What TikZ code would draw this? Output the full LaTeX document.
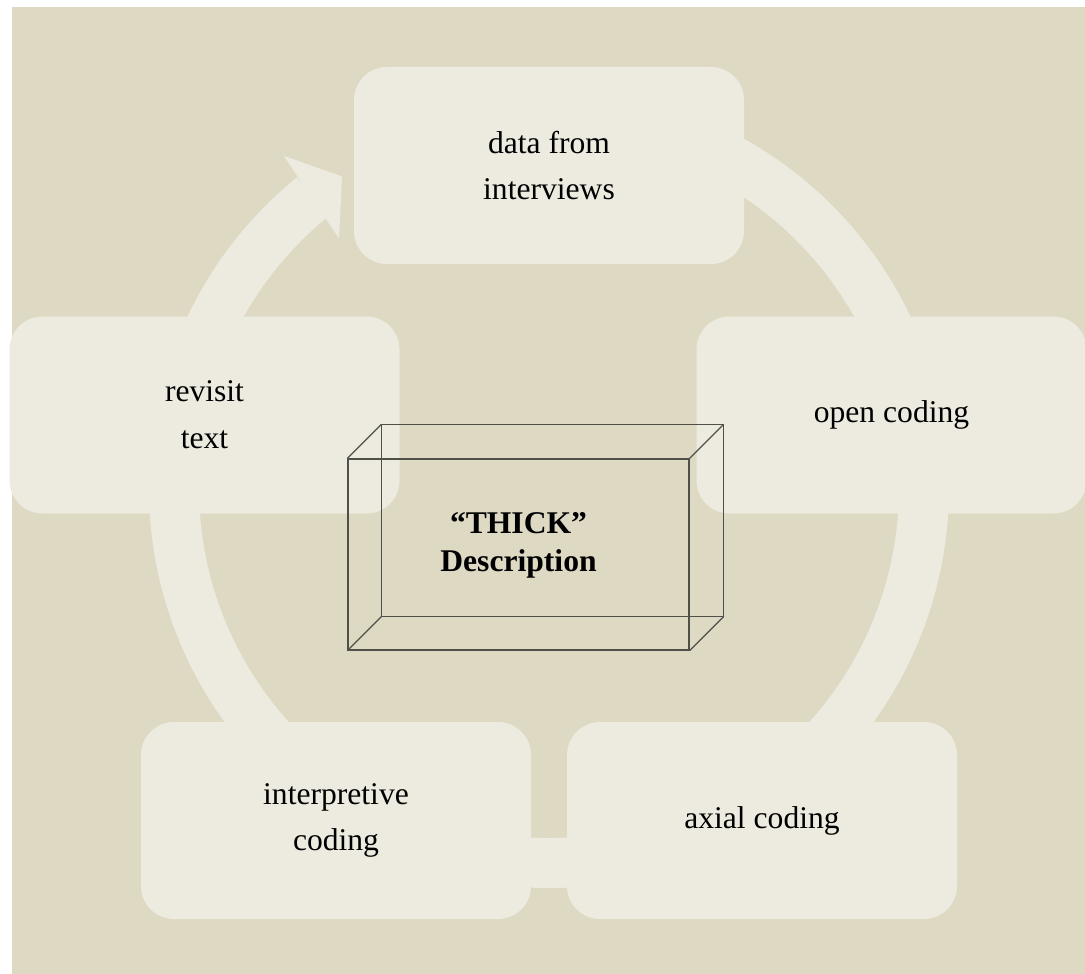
\documentclass[tikz,border=0pt]{standalone}
\usepackage{fontspec}
\setmainfont{Liberation Serif}
\definecolor{bgtan}{RGB}{221,217,195}
\definecolor{boxtan}{RGB}{237,235,224}
\definecolor{edgegray}{RGB}{80,80,75}
\begin{document}
\begin{tikzpicture}[x=0.75pt,y=0.75pt,yscale=-1,xscale=1,
  stage/.style={fill=boxtan, rounded corners=24.75pt, minimum width=292.5pt, minimum height=147.75pt, inner sep=0pt, align=center, font=\fontsize{23.7}{35}\selectfont},
  ringline/.style={draw=boxtan, line width=37.5pt},
  cubeface/.style={draw=edgegray, line width=0.9pt, minimum width=255.75pt, minimum height=143.25pt, inner sep=0pt},
  thicktext/.style={align=center, inner sep=0pt, font=\bfseries\fontsize{23.7}{28.5}\selectfont}]
\useasboundingbox (0,0) rectangle (1085,974);

%Background
\fill[bgtan] (12,7) rectangle (1085,974);

%Cycle arrow
\coordinate (c) at (549,488);
\draw[ringline] (c) ++(231:375) arc[start angle=231, end angle=-80, radius=375];
\fill[boxtan, shift={(c)}] (231.4:425) -- (236.4:374) -- (229.9:326) -- cycle;

%Stages
\node[stage] (data) at (549,165.5) {data from\\interviews};
\node[stage] (open) at (891.5,415) {\raisebox{-3pt}{open coding}};
\node[stage] (axial) at (762,820.5) {\raisebox{-3pt}{axial coding}};
\node[stage] (interp) at (336,820.5) {interpretive\\coding};
\node[stage] (revisit) at (204.5,415) {revisit\\text};

%Box in the middle
\node[cubeface] (front) at (518.5,554.5) {};
\coordinate (bnw) at ([shift={(34,-34)}]front.north west);
\coordinate (bne) at ([shift={(34,-34)}]front.north east);
\coordinate (bse) at ([shift={(34,-34)}]front.south east);
\coordinate (bsw) at ([shift={(34,-34)}]front.south west);
\draw[edgegray, line width=0.9pt] (bnw) -- (bne) -- (bse) -- (bsw) -- cycle;
\draw[edgegray, line width=0.9pt] (front.north west) -- (bnw) (front.north east) -- (bne) (front.south east) -- (bse) (front.south west) -- (bsw);

% Text Node
\node[thicktext] (thick) at (518.5,545) {``THICK''\\Description};

\end{tikzpicture}
\end{document}
